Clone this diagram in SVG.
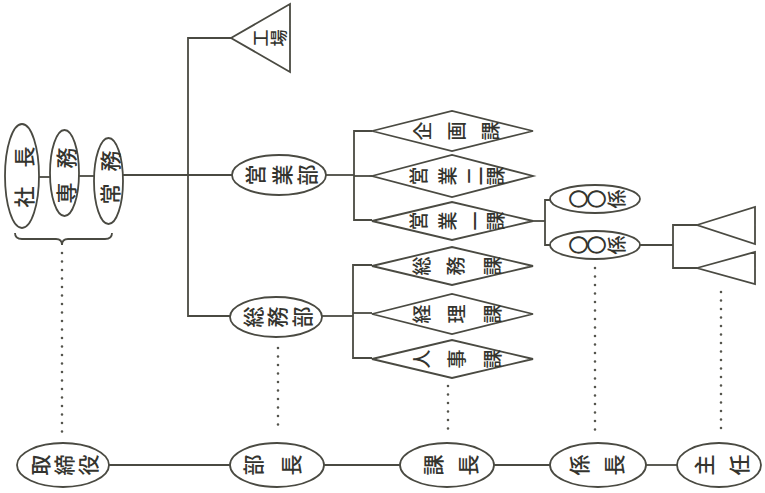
<svg xmlns="http://www.w3.org/2000/svg" width="765" height="493" viewBox="0 0 765 493">
  <style>
    .ln { fill: none; stroke: #4a4a42; stroke-width: 1.8; }
    .sh { fill: #ffffff; stroke: #4a4a42; stroke-width: 1.8; }
    .dot { fill: none; stroke: #55554d; stroke-width: 2.6; stroke-linecap: round; stroke-dasharray: 0 8.5; }
    .c { font-family: "Noto Sans CJK JP", "Noto Sans", sans-serif; font-weight: 500; fill: #34342e; text-anchor: middle; dominant-baseline: central; }
    .l { font-size: 21px; }
    .m { font-size: 19px; }
    .s { font-size: 17px; }
  </style>
  <rect width="765" height="493" fill="#ffffff"/>

  <!-- connectors -->
  <g id="connectors">
    <!-- executives to trunk -->
    <line class="ln" x1="38" y1="177" x2="50" y2="177"/>
    <line class="ln" x1="79" y1="176" x2="94" y2="176"/>
    <line class="ln" x1="123" y1="175" x2="232" y2="175"/>
    <!-- trunk -->
    <polyline class="ln" points="231,38 188,38 188,316 230,316"/>
    <!-- sales department branches -->
    <line class="ln" x1="326" y1="175" x2="354" y2="175"/>
    <polyline class="ln" points="372,131 354,131 354,220 372,220"/>
    <line class="ln" x1="354" y1="176" x2="372" y2="176"/>
    <!-- general affairs branches -->
    <line class="ln" x1="322" y1="316" x2="353" y2="316"/>
    <polyline class="ln" points="372,265 353,265 353,358 372,358"/>
    <line class="ln" x1="353" y1="313" x2="372" y2="313"/>
    <!-- sections to subsections -->
    <polyline class="ln" points="533,221 545,221"/>
    <polyline class="ln" points="550,200 545,200 545,245 550,245"/>
    <!-- subsection to staff -->
    <line class="ln" x1="640" y1="245" x2="673" y2="245"/>
    <polyline class="ln" points="697,225 673,225 673,268 697,268"/>
    <!-- brace under executives -->
    <path class="ln" d="M15,233 Q15,239 22,239 L56,239 Q62,239 62,245 Q62,239 68,239 L105,239 Q112,239 112,233"/>
    <!-- dotted rank links -->
    <line class="dot" x1="62" y1="253" x2="62" y2="433"/>
    <line class="dot" x1="278" y1="348" x2="278" y2="433"/>
    <line class="dot" x1="448" y1="386" x2="448" y2="433"/>
    <line class="dot" x1="595" y1="268" x2="595" y2="433"/>
    <line class="dot" x1="721" y1="292" x2="721" y2="433"/>
    <!-- rank row -->
    <line class="ln" x1="109" y1="465" x2="230" y2="465"/>
    <line class="ln" x1="324" y1="465" x2="400" y2="465"/>
    <line class="ln" x1="494" y1="465" x2="550" y2="465"/>
    <line class="ln" x1="646" y1="465" x2="677" y2="465"/>
  </g>

  <!-- executives -->
  <g id="shacho">
    <ellipse class="sh" cx="22" cy="176" rx="17" ry="52"/>
    <text class="c l" x="23" y="157" transform="rotate(-90 23 157)">長</text>
    <text class="c l" x="23" y="197" transform="rotate(-90 23 197)">社</text>
  </g>
  <g id="senmu">
    <ellipse class="sh" cx="64.5" cy="173" rx="14.5" ry="43"/>
    <text class="c l" x="65" y="158" transform="rotate(-90 65 158)">務</text>
    <text class="c l" x="65" y="193" transform="rotate(-90 65 193)">専</text>
  </g>
  <g id="jomu">
    <ellipse class="sh" cx="108.5" cy="181" rx="14.5" ry="43"/>
    <text class="c l" x="109" y="161" transform="rotate(-90 109 161)">務</text>
    <text class="c l" x="109" y="194" transform="rotate(-90 109 194)">常</text>
  </g>

  <!-- factory -->
  <g id="kojo">
    <polygon class="sh" points="231,38 290,4 290,72"/>
    <text class="c s" x="259" y="38" transform="rotate(-90 259 38)">工</text>
    <text class="c s" x="277" y="38" transform="rotate(-90 277 38)">場</text>
  </g>

  <!-- departments -->
  <g id="eigyobu">
    <ellipse class="sh" cx="279" cy="175" rx="47" ry="20"/>
    <text class="c l" x="254" y="175" transform="rotate(-90 254 175)">営</text>
    <text class="c l" x="281" y="175" transform="rotate(-90 281 175)">業</text>
    <text class="c l" x="306" y="175" transform="rotate(-90 306 175)">部</text>
  </g>
  <g id="somubu">
    <ellipse class="sh" cx="276" cy="317" rx="46" ry="20"/>
    <text class="c l" x="252" y="317" transform="rotate(-90 252 317)">総</text>
    <text class="c l" x="276" y="317" transform="rotate(-90 276 317)">務</text>
    <text class="c l" x="301" y="317" transform="rotate(-90 301 317)">部</text>
  </g>

  <!-- sections -->
  <g id="kikakuka">
    <polygon class="sh" points="372,131 452,111 533,131 452,151"/>
    <text class="c m" x="421" y="131" transform="rotate(-90 421 131)">企</text>
    <text class="c m" x="455" y="131" transform="rotate(-90 455 131)">画</text>
    <text class="c m" x="489" y="131" transform="rotate(-90 489 131)">課</text>
  </g>
  <g id="eigyo2ka">
    <polygon class="sh" points="372,176 452,155 533,176 452,197"/>
    <text class="c m" x="417" y="176" transform="rotate(-90 417 176)">営</text>
    <text class="c m" x="446" y="176" transform="rotate(-90 446 176)">業</text>
    <text class="c m" x="473" y="176" transform="rotate(-90 473 176)">二</text>
    <text class="c m" x="494" y="176" transform="rotate(-90 494 176)">課</text>
  </g>
  <g id="eigyo1ka">
    <polygon class="sh" points="372,221 452,202 533,221 452,240"/>
    <text class="c m" x="417" y="221" transform="rotate(-90 417 221)">営</text>
    <text class="c m" x="446" y="221" transform="rotate(-90 446 221)">業</text>
    <text class="c m" x="474" y="221" transform="rotate(-90 474 221)">一</text>
    <text class="c m" x="494" y="221" transform="rotate(-90 494 221)">課</text>
  </g>
  <g id="somuka">
    <polygon class="sh" points="372,266 452,247 533,266 452,285"/>
    <text class="c m" x="420" y="266" transform="rotate(-90 420 266)">総</text>
    <text class="c m" x="454" y="266" transform="rotate(-90 454 266)">務</text>
    <text class="c m" x="491" y="266" transform="rotate(-90 491 266)">課</text>
  </g>
  <g id="keirika">
    <polygon class="sh" points="372,314 452,294 533,314 452,334"/>
    <text class="c m" x="420" y="314" transform="rotate(-90 420 314)">経</text>
    <text class="c m" x="455" y="314" transform="rotate(-90 455 314)">理</text>
    <text class="c m" x="491" y="314" transform="rotate(-90 491 314)">課</text>
  </g>
  <g id="jinjika">
    <polygon class="sh" points="372,359 452,340 533,359 452,378"/>
    <text class="c m" x="420" y="359" transform="rotate(-90 420 359)">人</text>
    <text class="c m" x="455" y="359" transform="rotate(-90 455 359)">事</text>
    <text class="c m" x="491" y="359" transform="rotate(-90 491 359)">課</text>
  </g>

  <!-- subsections -->
  <g id="kakari1">
    <ellipse class="sh" cx="595" cy="199" rx="45" ry="14"/>
    <text class="c m" x="577" y="199" transform="rotate(-90 577 199)">〇</text>
    <text class="c m" x="595" y="199" transform="rotate(-90 595 199)">〇</text>
    <text class="c m" x="615" y="199" transform="rotate(-90 615 199)">係</text>
  </g>
  <g id="kakari2">
    <ellipse class="sh" cx="595" cy="245" rx="45" ry="14"/>
    <text class="c m" x="577" y="245" transform="rotate(-90 577 245)">〇</text>
    <text class="c m" x="595" y="245" transform="rotate(-90 595 245)">〇</text>
    <text class="c m" x="615" y="245" transform="rotate(-90 615 245)">係</text>
  </g>

  <!-- staff -->
  <g id="staff1">
    <polygon class="sh" points="697,225 755,207 755,244"/>
  </g>
  <g id="staff2">
    <polygon class="sh" points="697,268 755,252 755,284"/>
  </g>

  <!-- rank row -->
  <g id="torishimariyaku">
    <ellipse class="sh" cx="63" cy="465" rx="46" ry="22"/>
    <text class="c l" x="39" y="465" transform="rotate(-90 39 465)">取</text>
    <text class="c l" x="63" y="465" transform="rotate(-90 63 465)">締</text>
    <text class="c l" x="87" y="465" transform="rotate(-90 87 465)">役</text>
  </g>
  <g id="bucho">
    <ellipse class="sh" cx="277" cy="465" rx="47" ry="22"/>
    <text class="c l" x="252" y="465" transform="rotate(-90 252 465)">部</text>
    <text class="c l" x="290" y="465" transform="rotate(-90 290 465)">長</text>
  </g>
  <g id="kacho">
    <ellipse class="sh" cx="447" cy="465" rx="47" ry="22"/>
    <text class="c l" x="432" y="465" transform="rotate(-90 432 465)">課</text>
    <text class="c l" x="467" y="465" transform="rotate(-90 467 465)">長</text>
  </g>
  <g id="kakaricho">
    <ellipse class="sh" cx="598" cy="465" rx="48" ry="22"/>
    <text class="c l" x="578" y="465" transform="rotate(-90 578 465)">係</text>
    <text class="c l" x="613" y="465" transform="rotate(-90 613 465)">長</text>
  </g>
  <g id="shunin">
    <ellipse class="sh" cx="719" cy="465" rx="42" ry="22"/>
    <text class="c l" x="703" y="465" transform="rotate(-90 703 465)">主</text>
    <text class="c l" x="738" y="465" transform="rotate(-90 738 465)">任</text>
  </g>
</svg>
